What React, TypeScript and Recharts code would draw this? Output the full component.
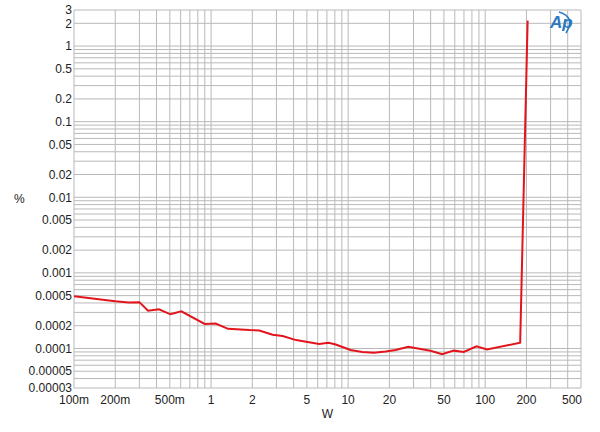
import React from 'react';
import { LineChart, Line, XAxis, YAxis, CartesianGrid, Label } from 'recharts';

// Measured THD+N (%) vs output power (W)
const powerW = [0.1, 0.2, 0.25, 0.3, 0.347, 0.417, 0.505, 0.607, 0.898, 1.08, 1.33, 1.9, 2.25, 2.81, 3.33, 4.17, 5.06, 6.15, 7.19, 8.13, 10.4, 12.7, 15.4, 18.8, 22.2, 27.5, 33, 39.9, 48.5, 59, 69.8, 86.3, 103, 180, 204];
const thdPct = [0.00049, 0.00042, 0.000405, 0.00041, 0.000316, 0.00033, 0.000283, 0.00031, 0.000211, 0.000214, 0.000182, 0.000175, 0.000173, 0.000152, 0.000146, 0.000129, 0.000122, 0.000115, 0.000119, 0.000113, 0.0000955, 0.0000898, 0.0000878, 0.0000915, 0.0000955, 0.000105, 0.000099, 0.0000934, 0.0000838, 0.0000936, 0.0000898, 0.000107, 0.000097, 0.000119, 2.17];

// Grid tick positions
const xGridTicks = [0.1, 0.2, 0.3, 0.4, 0.5, 0.6, 0.7, 0.8, 0.9, 1, 2, 3, 4, 5, 6, 7, 8, 9, 10, 20, 30, 40, 50, 60, 70, 80, 90, 100, 200, 300, 400, 500];
const yGridTicks = [
  0.00003, 0.00004, 0.00005, 0.00006, 0.00007, 0.00008, 0.00009,
  0.0001, 0.0002, 0.0003, 0.0004, 0.0005, 0.0006, 0.0007, 0.0008, 0.0009,
  0.001, 0.002, 0.003, 0.004, 0.005, 0.006, 0.007, 0.008, 0.009,
  0.01, 0.02, 0.03, 0.04, 0.05, 0.06, 0.07, 0.08, 0.09,
  0.1, 0.2, 0.3, 0.4, 0.5, 0.6, 0.7, 0.8, 0.9,
  1, 2, 3,
];

// Labelled ticks
const xLabelValues = [0.1, 0.2, 0.5, 1, 2, 5, 10, 20, 50, 100, 200, 500];
const xLabelTexts = ['100m', '200m', '500m', '1', '2', '5', '10', '20', '50', '100', '200', '500'];
const yLabelValues = [3, 2, 1, 0.5, 0.2, 0.1, 0.05, 0.02, 0.01, 0.005, 0.002, 0.001, 0.0005, 0.0002, 0.0001, 0.00005, 0.00003];
const yLabelTexts = ['3', '2', '1', '0.5', '0.2', '0.1', '0.05', '0.02', '0.01', '0.005', '0.002', '0.001', '0.0005', '0.0002', '0.0001', '0.00005', '0.00003'];

const data = powerW.map((w, i) => ({ w, thd: thdPct[i] }));

const near = (a: number, b: number) => Math.abs(a - b) <= Math.abs(b) * 1e-6;

const FONT = '"Liberation Sans", Arial, sans-serif';

const XTick = (props: any) => {
  const { x, y, payload } = props;
  const idx = xLabelValues.findIndex((v) => near(payload.value, v));
  if (idx < 0) return <g />;
  const last = idx === xLabelValues.length - 1;
  return (
    <text x={last ? x + 1 : x} y={y} dy="0.71em" textAnchor={last ? 'end' : 'middle'} fontSize={12} fill="#222" fontFamily={FONT}>
      {xLabelTexts[idx]}
    </text>
  );
};

const YTick = (props: any) => {
  const { x, y, payload } = props;
  const idx = yLabelValues.findIndex((v) => near(payload.value, v));
  if (idx < 0) return <g />;
  return (
    <text x={x} y={y} dy="0.355em" textAnchor="end" fontSize={12} fill="#222" fontFamily={FONT}>
      {yLabelTexts[idx]}
    </text>
  );
};

export default function App() {
  return (
    <div style={{ position: 'absolute', left: 0, top: 0, width: 600, height: 432, background: '#fff', fontFamily: FONT }}>
      <LineChart width={600} height={432} data={data} margin={{ top: 10, right: 19, left: 0, bottom: 0 }}>
        <CartesianGrid stroke="#b9b9b9" strokeWidth={1} />
        <XAxis
          dataKey="w"
          type="number"
          scale="log"
          domain={[0.1, 500]}
          allowDataOverflow
          ticks={xGridTicks}
          interval={0}
          tick={<XTick />}
          tickLine={false}
          axisLine={false}
          tickSize={5}
          tickMargin={2}
          height={44}
        >
          <Label value="W" position="insideBottom" offset={14} fontSize={12} fill="#222" fontFamily={FONT} />
        </XAxis>
        <YAxis
          type="number"
          scale="log"
          domain={[0.00003, 3]}
          allowDataOverflow
          ticks={yGridTicks}
          interval={0}
          tick={<YTick />}
          tickLine={false}
          axisLine={false}
          tickSize={2}
          tickMargin={0}
          width={74}
        >
          <Label value="%" position="insideLeft" offset={14} fontSize={12} fill="#222" fontFamily={FONT} />
        </YAxis>
        <Line dataKey="thd" type="linear" stroke="#e3141b" strokeWidth={2} dot={false} isAnimationActive={false} />
      </LineChart>
      <svg width={600} height={432} style={{ position: 'absolute', left: 0, top: 0, pointerEvents: 'none' }}>
        <text x={550} y={28} fontSize={17} fontStyle="italic" fontWeight="bold" fill="#2b78c0" fontFamily={FONT}>Ap</text>
        <path d="M 559 12 Q 576 17 566 33" stroke="#2b78c0" strokeWidth={1.6} fill="none" />
      </svg>
    </div>
  );
}
